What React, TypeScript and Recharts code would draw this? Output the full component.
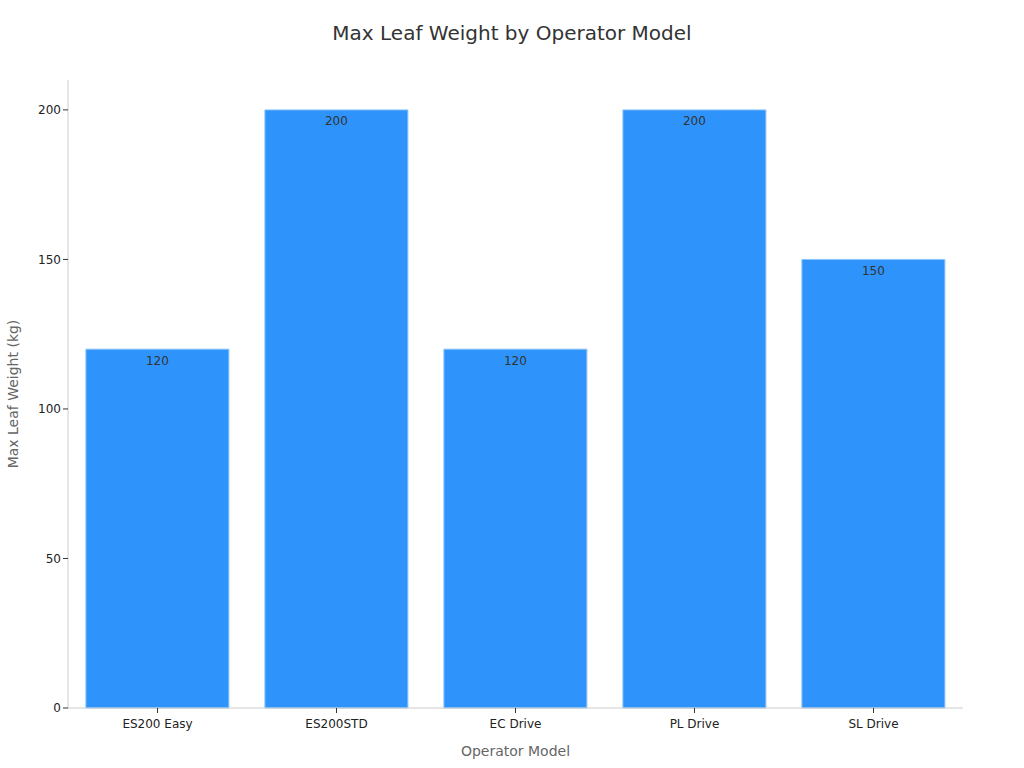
import { BarChart, Bar, XAxis, YAxis, LabelList, Label } from "recharts";

const models = ["ES200 Easy", "ES200STD", "EC Drive", "PL Drive", "SL Drive"];
const maxWeights = [120, 200, 120, 200, 150];
const yTicks = [0, 50, 100, 150, 200];

const data = models.map((name, i) => ({ name, weight: maxWeights[i] }));

const font = "DejaVu Sans, sans-serif";

export default function App() {
  return (
    <div style={{ position: "absolute", top: 0, left: 0, width: 1024, height: 768, background: "#fff", fontFamily: font }}>
      <div
        style={{
          position: "absolute",
          top: 21,
          width: 1024,
          textAlign: "center",
          fontSize: 20,
          color: "#333",
        }}
      >
        Max Leaf Weight by Operator Model
      </div>
      <BarChart
        width={1024}
        height={768}
        data={data}
        margin={{ top: 80, right: 61, left: 8, bottom: 20 }}
        barCategoryGap="10%"
      >
        <XAxis
          dataKey="name"
          height={40}
          stroke="#ccc"
          tickLine={{ stroke: "#333" }}
          tickSize={5}
          tickMargin={6}
          tick={{ fill: "#222", fontSize: 12, fontFamily: font }}
        >
          <Label value="Operator Model" position="insideBottom" offset={-8} fill="#666" fontSize={14} fontFamily={font} />
        </XAxis>
        <YAxis
          width={60}
          domain={[0, 210]}
          ticks={yTicks}
          stroke="#ccc"
          tickLine={{ stroke: "#333" }}
          tickSize={5}
          tick={{ fill: "#222", fontSize: 12, fontFamily: font }}
        >
          <Label
            value="Max Leaf Weight (kg)"
            angle={-90}
            position="insideLeft"
            offset={5}
            style={{ textAnchor: "middle" }}
            fill="#666"
            fontSize={14}
            fontFamily={font}
          />
        </YAxis>
        <Bar dataKey="weight" fill="#2e93fa" stroke="#8cc4fc" strokeWidth={1} isAnimationActive={false}>
          <LabelList dataKey="weight" position="insideTop" offset={7} fill="#333" fontSize={12} fontFamily={font} />
        </Bar>
      </BarChart>
    </div>
  );
}
